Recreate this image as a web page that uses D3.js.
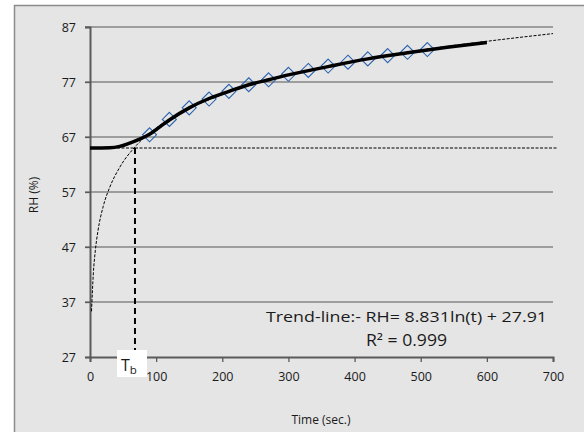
<!DOCTYPE html>
<html>
<head>
<meta charset="utf-8">
<script src="https://cdn.jsdelivr.net/npm/d3@7"></script>
<style>
  body { margin: 0; background: #fff; }
  svg text { font-family: "Open Sans", "Liberation Sans", sans-serif; fill: #1a1a1a; }
</style>
</head>
<body>
<svg id="chart" width="584" height="432"></svg>
<script>
// measured points (diamonds)
const obsTime = [90, 120, 150, 180, 210, 240, 270, 300, 330, 360, 390, 420, 450, 480, 510];
const obsRH = [67.4, 70.2, 72.3, 73.9, 75.3, 76.5, 77.4, 78.4, 79.1, 79.9, 80.6, 81.2, 81.8, 82.4, 82.9];

// thick smoothed response curve
const fitTime = [0, 30, 45, 60, 75, 90, 105, 120, 150, 180, 210, 240, 270, 300, 360, 420, 480, 540, 600];
const fitRH = [65, 65.05, 65.3, 65.9, 66.6, 67.5, 68.8, 70.1, 72.3, 74.0, 75.3, 76.5, 77.4, 78.3, 79.8, 81.2, 82.3, 83.3, 84.2];

// thin dashed log trend-line
const trendTime = [2.3, 5, 8, 12, 20, 30, 45, 68, 100, 150, 200, 300, 400, 500, 600, 700];
const trendRH = [35.3, 42.1, 46.3, 49.9, 54.4, 57.9, 61.5, 65.2, 68.6, 72.2, 74.7, 78.3, 80.8, 82.8, 84.4, 85.8];

const baseRH = 65;      // initial level (dashed horizontal)
const tb = 68;          // breakthrough time
const xTicks = [0, 100, 200, 300, 400, 500, 600, 700];
const yTicks = [27, 37, 47, 57, 67, 77, 87];

const svg = d3.select('#chart');

// chart area frame
svg.append('rect')
  .attr('x', 14.5).attr('y', 5.5)
  .attr('width', 600).attr('height', 460)
  .attr('fill', '#e5e5e5')
  .attr('stroke', '#8c8c8c')
  .attr('stroke-width', 1.5);

const x = d3.scaleLinear().domain([0, 700]).range([90, 553]);
const y = d3.scaleLinear().domain([27, 87]).range([357, 27]);

// gridlines
svg.append('g')
  .selectAll('line')
  .data(yTicks.slice(1))
  .join('line')
  .attr('x1', x(0) - 5).attr('x2', x(700))
  .attr('y1', d => y(d)).attr('y2', d => y(d))
  .attr('stroke', '#858585')
  .attr('stroke-width', 1.3);

// axes
const yAxis = d3.axisLeft(y).tickValues(yTicks).tickSize(5).tickPadding(9);
const xAxis = d3.axisBottom(x).tickValues(xTicks).tickSize(5).tickPadding(10);

const gY = svg.append('g').attr('transform', `translate(${x(0)},0)`).call(yAxis);
const gX = svg.append('g').attr('transform', `translate(0,${y(27)})`).call(xAxis);

[gX, gY].forEach(g => {
  g.select('.domain').attr('stroke', '#5a5a5a').attr('stroke-width', 2);
  g.selectAll('.tick line').attr('stroke', '#5a5a5a').attr('stroke-width', 1.3);
  g.selectAll('.tick text')
    .attr('font-family', '"Open Sans", "Liberation Sans", sans-serif')
    .attr('font-size', 12.5)
    .attr('fill', '#1a1a1a');
});
gY.selectAll('.tick text').attr('dy', '0.35em');

// axis titles
svg.append('text')
  .attr('x', 321).attr('y', 424)
  .attr('text-anchor', 'middle')
  .attr('font-size', 12)
  .text('Time (sec.)');

svg.append('text')
  .attr('transform', 'translate(38,195) rotate(-90)')
  .attr('text-anchor', 'middle')
  .attr('font-size', 12)
  .text('RH (%)');

// dashed horizontal base level
svg.append('line')
  .attr('x1', x(0)).attr('x2', 558)
  .attr('y1', y(baseRH)).attr('y2', y(baseRH))
  .attr('stroke', '#000')
  .attr('stroke-width', 1)
  .attr('stroke-dasharray', '3,1.5');

// thin dashed trend-line
const trendLine = d3.line()
  .x((d, i) => x(trendTime[i]))
  .y(d => y(d))
  .curve(d3.curveMonotoneX);

svg.append('path')
  .attr('d', trendLine(trendRH))
  .attr('fill', 'none')
  .attr('stroke', '#000')
  .attr('stroke-width', 1)
  .attr('stroke-dasharray', '3,1.5');

// vertical Tb marker
svg.append('line')
  .attr('x1', x(tb)).attr('x2', x(tb))
  .attr('y1', y(baseRH)).attr('y2', y(27))
  .attr('stroke', '#000')
  .attr('stroke-width', 2)
  .attr('stroke-dasharray', '6,4');

// diamonds
svg.append('g')
  .selectAll('path')
  .data(obsRH)
  .join('path')
  .attr('transform', (d, i) => `translate(${x(obsTime[i])},${y(d)})`)
  .attr('d', 'M0,-7L7,0L0,7L-7,0Z')
  .attr('fill', 'none')
  .attr('stroke', '#2a62ad')
  .attr('stroke-width', 1.1);

// thick response curve
const fitLine = d3.line()
  .x((d, i) => x(fitTime[i]))
  .y(d => y(d))
  .curve(d3.curveMonotoneX);

svg.append('path')
  .attr('d', fitLine(fitRH))
  .attr('fill', 'none')
  .attr('stroke', '#000')
  .attr('stroke-width', 3.5)
  .attr('stroke-linecap', 'butt');

// Tb label box
svg.append('rect')
  .attr('x', 117).attr('y', 350)
  .attr('width', 30).attr('height', 27)
  .attr('fill', '#fff');

const tbText = svg.append('text')
  .attr('x', 121).attr('y', 371)
  .attr('font-size', 16);
tbText.append('tspan').text('T');
tbText.append('tspan').attr('font-size', 11.5).attr('dy', 3).text('b');

// equation annotation
svg.append('text')
  .attr('x', 547).attr('y', 322)
  .attr('text-anchor', 'end')
  .attr('font-size', 15)
  .attr('textLength', 281)
  .attr('lengthAdjust', 'spacingAndGlyphs')
  .text('Trend-line:- RH= 8.831ln(t) + 27.91');

svg.append('text')
  .attr('x', 366).attr('y', 346)
  .attr('font-size', 15.5)
  .attr('textLength', 81)
  .attr('lengthAdjust', 'spacingAndGlyphs')
  .text('R² = 0.999');
</script>
</body>
</html>
